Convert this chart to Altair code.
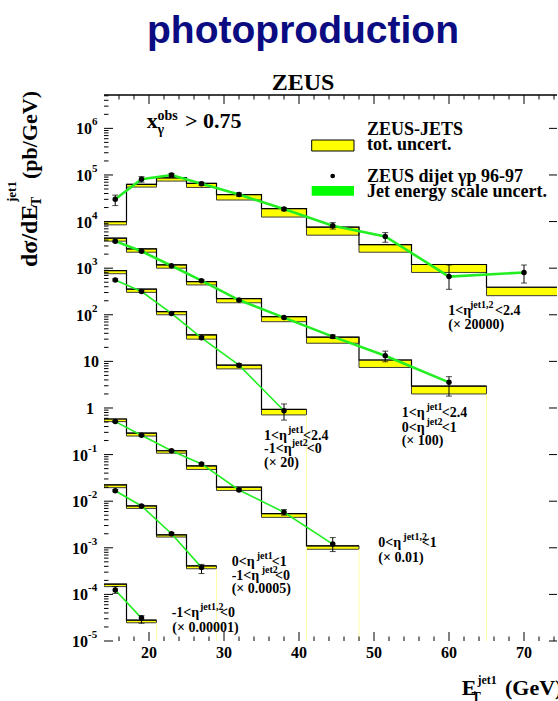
import altair as alt
import pandas as pd

# ---------------- data ----------------
EDGES = [14, 17, 21, 25, 29, 35, 41, 48, 55, 65, 75]
XPTS = [15.5, 19, 23, 27, 32, 38, 44.5, 51.5, 60, 70]

# 1<eta^{jet1,2}<2.4 (x 20000)
S1_HLO = [8.5e3, 5.5e4, 7.4e4, 5.4e4, 2.9e4, 1.25e4, 5.1e3, 2.2e3, 810, 257]
S1_HHI = [1.0e4, 6.3e4, 8.7e4, 6.6e4, 3.8e4, 1.9e4, 7.6e3, 3.2e3, 1.2e3, 390]
S1_Y = [3.0e4, 8.1e4, 1.0e5, 6.5e4, 3.8e4, 1.86e4, 8.1e3, 4.8e3, 660, 810]
S1_LO = [2.2e4, 7.0e4, 9.2e4, 6.0e4, 3.5e4, 1.7e4, 6.9e3, 3.6e3, 352, 480]
S1_HI = [3.7e4, 9.2e4, 1.08e5, 7.0e4, 4.1e4, 2.0e4, 9.5e3, 5.8e3, 1170, 1170]

# 1<eta^jet1<2.4, 0<eta^jet2<1 (x 100)
S2_HLO = [3.8e3, 2.2e3, 1.0e3, 437, 181, 71, 24.5, 7.4, 2.0]
S2_HHI = [4.4e3, 2.6e3, 1.18e3, 515, 223, 91, 33, 10.7, 2.95]
S2_Y = [3.8e3, 2.3e3, 1.13e3, 540, 207, 87, 34, 13.2, 3.55]
S2_LO = [3.6e3, 2.2e3, 1.08e3, 515, 197, 82, 31, 9.8, 1.8]
S2_HI = [4.0e3, 2.4e3, 1.18e3, 565, 217, 92, 37, 16.6, 4.7]

# 1<eta^jet1<2.4, -1<eta^jet2<0 (x 20)
S3_HLO = [760, 303, 100, 30, 6.9, 0.71]
S3_HHI = [890, 355, 117, 37, 8.3, 0.93]
S3_Y = [560, 315, 107, 32, 8.3, 0.87]
S3_LO = [530, 300, 102, 30, 7.6, 0.55]
S3_HI = [590, 330, 112, 34, 9.0, 1.22]

# 0<eta^{jet1,2}<1 (x 0.01)
S4_HLO = [0.51, 0.25, 0.107, 0.048, 0.017, 0.0045, 0.00093]
S4_HHI = [0.58, 0.29, 0.121, 0.057, 0.020, 0.0054, 0.0011]
S4_Y = [0.51, 0.26, 0.121, 0.063, 0.0174, 0.0058, 0.0012]
S4_LO = [0.49, 0.25, 0.116, 0.060, 0.0165, 0.0050, 0.00083]
S4_HI = [0.53, 0.27, 0.126, 0.066, 0.0183, 0.0066, 0.00166]

# 0<eta^jet1<1, -1<eta^jet2<0 (x 0.0005)
S5_HLO = [0.0195, 0.0070, 0.0017, 3.55e-4]
S5_HHI = [0.0224, 0.0079, 0.0019, 4.1e-4]
S5_Y = [0.0168, 0.0079, 0.0020, 3.8e-4]
S5_LO = [0.0160, 0.0075, 0.0019, 2.8e-4]
S5_HI = [0.0176, 0.0083, 0.0021, 4.4e-4]

# -1<eta^{jet1,2}<0 (x 0.00001)
S6_HLO = [1.47e-4, 2.46e-5]
S6_HHI = [1.66e-4, 2.8e-5]
S6_Y = [1.24e-4, 3.1e-5]
S6_LO = [1.05e-4, 2.4e-5]
S6_HI = [1.47e-4, 3.5e-5]

SERIES = [
    ("s1", S1_HLO, S1_HHI, S1_Y, S1_LO, S1_HI),
    ("s2", S2_HLO, S2_HHI, S2_Y, S2_LO, S2_HI),
    ("s3", S3_HLO, S3_HHI, S3_Y, S3_LO, S3_HI),
    ("s4", S4_HLO, S4_HHI, S4_Y, S4_LO, S4_HI),
    ("s5", S5_HLO, S5_HHI, S5_Y, S5_LO, S5_HI),
    ("s6", S6_HLO, S6_HHI, S6_Y, S6_LO, S6_HI),
]
THICK = {"s1", "s2"}

X_MAJOR = [20, 30, 40, 50, 60, 70]
X_MINOR = [v for v in range(16, 75, 2) if v % 10 != 0]
DECADES = list(range(-5, 7))
Y_TOP = 5.2e6
Y_MINOR = [m * 10.0 ** k for k in DECADES for m in range(2, 10) if m * 10.0 ** k < Y_TOP]

# ---------------- layout ----------------
OX, OY = 104, 95          # plot origin in the page
W, H = 453, 546
NAVY = "#0b0b82"
YELLOW = "#ffff00"
GREEN = "#22ee22"
SERIF = "Liberation Serif"

# ---------------- frames ----------------
hist_rows, step_rows, pt_rows, end_rows = [], [], [], []
for name, hlo, hhi, y, lo, hi in SERIES:
    n = len(hhi)
    for i in range(n):
        hist_rows.append(dict(s=name, x0=EDGES[i], x1=EDGES[i + 1], lo=hlo[i], hi=hhi[i]))
        step_rows.append(dict(s=name, x=EDGES[i], y=hhi[i]))
    step_rows.append(dict(s=name, x=EDGES[n], y=hhi[n - 1]))
    for i in range(len(y)):
        pt_rows.append(dict(s=name, x=XPTS[i], y=y[i], lo=lo[i], hi=hi[i],
                            thick=name in THICK))
    if EDGES[n] < 74:
        end_rows.append(dict(x=EDGES[n], y=hlo[n - 1], y2=1e-5))

hist = pd.DataFrame(hist_rows)
steps = pd.DataFrame(step_rows)
pts = pd.DataFrame(pt_rows)
ends = pd.DataFrame(end_rows)

xs = alt.Scale(domain=[14, 74.4], nice=False, zero=False)
ys = alt.Scale(type="log", domain=[1e-5, Y_TOP], nice=False)

x_axis = alt.Axis(labels=False, ticks=False, title=None, domainColor="black",
                  domainWidth=1.5, grid=False)
y_axis = alt.Axis(labels=False, ticks=False, title=None, domainColor="black",
                  domainWidth=1.5, grid=False)

layers = []

# ZEUS-JETS bands (carries the axis lines)
layers.append(alt.Chart(hist).mark_rect(fill=YELLOW, stroke="#3c3c3c", strokeWidth=1, clip=True).encode(
    x=alt.X("x0:Q", scale=xs, axis=x_axis), x2="x1:Q",
    y=alt.Y("lo:Q", scale=ys, axis=y_axis), y2="hi:Q"))

# faint yellow edges of the filled areas
layers.append(alt.Chart(ends).mark_rule(color="#ffffa8", strokeWidth=1).encode(
    x=alt.X("x:Q", scale=xs, axis=None),
    y=alt.Y("y:Q", scale=ys, axis=None), y2="y2:Q"))

layers.append(alt.Chart(steps).mark_line(interpolate="step-after", color="black",
                                         strokeWidth=1.2, clip=True).encode(
    x=alt.X("x:Q", scale=xs, axis=None), y=alt.Y("y:Q", scale=ys, axis=None),
    detail="s:N"))

# jet energy scale uncertainty (green)
for thick, sw in ((True, 2.6), (False, 1.6)):
    layers.append(alt.Chart(pts[pts.thick == thick]).mark_line(color=GREEN, strokeWidth=sw).encode(
        x=alt.X("x:Q", scale=xs, axis=None), y=alt.Y("y:Q", scale=ys, axis=None),
        detail="s:N"))

# data points with error bars
layers.append(alt.Chart(pts).mark_rule(color="black", strokeWidth=1).encode(
    x=alt.X("x:Q", scale=xs, axis=None), y=alt.Y("lo:Q", scale=ys, axis=None), y2="hi:Q"))
for f in ("lo", "hi"):
    layers.append(alt.Chart(pts).mark_tick(color="black", orient="horizontal", size=6, thickness=1).encode(
        x=alt.X("x:Q", scale=xs, axis=None), y=alt.Y(f + ":Q", scale=ys, axis=None)))
layers.append(alt.Chart(pts).mark_circle(color="black", opacity=1, size=30).encode(
    x=alt.X("x:Q", scale=xs, axis=None), y=alt.Y("y:Q", scale=ys, axis=None)))

# inward ticks
xmaj = pd.DataFrame({"v": X_MAJOR})
xmin = pd.DataFrame({"v": X_MINOR})
ymaj = pd.DataFrame({"v": [10.0 ** k for k in DECADES]})
ymin = pd.DataFrame({"v": Y_MINOR})
tk = dict(color="black", strokeWidth=1)
for df, ln in ((xmaj, 9), (xmin, 4.5)):
    layers.append(alt.Chart(df).mark_rule(**tk).encode(
        x=alt.X("v:Q", scale=xs, axis=None), y=alt.value(H), y2=alt.value(H - ln)))
    layers.append(alt.Chart(df).mark_rule(**tk).encode(
        x=alt.X("v:Q", scale=xs, axis=None), y=alt.value(0), y2=alt.value(ln)))
for df, ln in ((ymaj, 9), (ymin, 4.5)):
    layers.append(alt.Chart(df).mark_rule(**tk).encode(
        y=alt.Y("v:Q", scale=ys, axis=None), x=alt.value(0), x2=alt.value(ln)))
layers.append(alt.Chart(ymaj).mark_rule(**tk).encode(
    y=alt.Y("v:Q", scale=ys, axis=None), x=alt.value(W - 8), x2=alt.value(W)))
# top frame line
layers.append(alt.Chart(xmaj.head(1)).mark_rule(color="black", strokeWidth=1.5).encode(
    x=alt.value(0), x2=alt.value(W), y=alt.value(0)))

# x tick labels
layers.append(alt.Chart(xmaj).mark_text(font=SERIF, fontWeight="bold", fontSize=16, align="center",
                                        baseline="top", color="black").encode(
    x=alt.X("v:Q", scale=xs, axis=None), y=alt.value(H + 4), text=alt.Text("v:Q", format="d")))

# y tick labels 10^k
lab_rows = []
for k in DECADES:
    if k >= 2:
        lab_rows.append(dict(v=10.0 ** k, base="10", exp=str(k), px=-12))
    elif k < 0:
        lab_rows.append(dict(v=10.0 ** k, base="10", exp=str(k), px=-16))
    elif k == 1:
        lab_rows.append(dict(v=10.0 ** k, base="10", exp="", px=-5))
    else:
        lab_rows.append(dict(v=1.0, base="1", exp="", px=-10))
labs = pd.DataFrame(lab_rows)
layers.append(alt.Chart(labs).mark_text(font=SERIF, fontWeight="bold", fontSize=16, align="right",
                                        baseline="middle", dy=1, color="black").encode(
    y=alt.Y("v:Q", scale=ys, axis=None), x=alt.X("px:Q", scale=None, axis=None), text="base:N"))
layers.append(alt.Chart(labs[labs.exp != ""]).mark_text(font=SERIF, fontWeight="bold", fontSize=11,
                                                        align="left", baseline="middle", dy=-6,
                                                        color="black").encode(
    y=alt.Y("v:Q", scale=ys, axis=None), x=alt.X("px:Q", scale=None, axis=None), text="exp:N"))

# annotation texts (text, page x, page baseline y, font size)
ANNOT = [
    ("x", 146.7, 128, 22), ("obs", 157.5, 120, 14), ("γ", 157.5, 134, 14), ("> 0.75", 185, 128, 22),
    ("ZEUS-JETS", 367, 135, 18), ("tot. uncert.", 367, 149.5, 18),
    ("ZEUS dijet γp 96-97", 367, 181.5, 18), ("Jet energy scale uncert.", 367, 196.5, 18),
    ("1<η", 448.3, 315, 14), ("jet1,2", 470, 308, 10), ("<2.4", 495, 315, 14), ("(× 20000)", 448.3, 328.5, 14),
    ("1<η", 401.7, 417, 14), ("jet1", 426.5, 410, 10), ("<2.4", 441.7, 417, 14),
    ("0<η", 401.7, 431.7, 14), ("jet2", 426.5, 424.7, 10), ("<1", 441.7, 431.7, 14), ("(× 100)", 401.7, 445, 14),
    ("1<η", 264, 440, 14), ("jet1", 288, 433, 10), ("<2.4", 303, 440, 14),
    ("-1<η", 264, 452.5, 14), ("jet2", 291.7, 445.5, 10), ("<0", 306.7, 452.5, 14), ("(× 20)", 264, 466.7, 14),
    ("0<η", 378.3, 547.3, 14), ("jet1,2", 403.3, 540.3, 10), ("<1", 421.7, 547.3, 14), ("(× 0.01)", 378.3, 561.7, 14),
    ("0<η", 231.7, 566, 14), ("jet1", 256.7, 559, 10), ("<1", 271.7, 566, 14),
    ("-1<η", 231.7, 580, 14), ("jet2", 261.7, 573, 10), ("<0", 275, 580, 14), ("(× 0.0005)", 231.7, 593.3, 14),
    ("-1<η", 171.7, 616.7, 14), ("jet1,2", 200, 609.7, 10), ("<0", 220, 616.7, 14), ("(× 0.00001)", 172.3, 631.7, 14),
    ("E", 461.7, 695, 22), ("jet1", 477.5, 684, 12), ("T", 471.5, 702, 14), ("(GeV)", 505, 695, 22),
]
ann = pd.DataFrame([dict(t=t, px=x - OX, py=y - OY, fs=s) for t, x, y, s in ANNOT])
layers.append(alt.Chart(ann).mark_text(font=SERIF, fontWeight="bold", align="left",
                                       baseline="alphabetic", color="black").encode(
    x=alt.X("px:Q", scale=None, axis=None), y=alt.Y("py:Q", scale=None, axis=None),
    size=alt.Size("fs:Q", scale=None, legend=None), text="t:N"))

# rotated y title
YT = [("dσ/dE", 37, 267, 24), ("T", 41, 206, 14), ("jet1", 16, 202, 13), ("(pb/GeV)", 37, 179, 22)]
yt = pd.DataFrame([dict(t=t, px=x - OX, py=y - OY, fs=s) for t, x, y, s in YT])
layers.append(alt.Chart(yt).mark_text(font=SERIF, fontWeight="bold", align="left", angle=270,
                                      baseline="alphabetic", color="black").encode(
    x=alt.X("px:Q", scale=None, axis=None), y=alt.Y("py:Q", scale=None, axis=None),
    size=alt.Size("fs:Q", scale=None, legend=None), text="t:N"))

# legend symbols
layers.append(alt.Chart(xmaj.head(1)).mark_rect(fill=YELLOW, stroke="black", strokeWidth=1).encode(
    x=alt.value(311.7 - OX), x2=alt.value(354 - OX), y=alt.value(140 - OY), y2=alt.value(151 - OY)))
layers.append(alt.Chart(xmaj.head(1)).mark_rect(fill="#00ff00").encode(
    x=alt.value(311.7 - OX), x2=alt.value(354 - OX), y=alt.value(186 - OY), y2=alt.value(195.7 - OY)))
layers.append(alt.Chart(xmaj.head(1)).mark_circle(color="black", opacity=1, size=22).encode(
    x=alt.value(332.7 - OX), y=alt.value(176 - OY)))

# titles
layers.append(alt.Chart(xmaj.head(1)).mark_text(text="photoproduction", font="Liberation Sans",
                                                fontWeight="bold", fontSize=39, color=NAVY,
                                                align="center", baseline="alphabetic").encode(
    x=alt.value(303 - OX), y=alt.value(43 - OY)))
layers.append(alt.Chart(xmaj.head(1)).mark_text(text="ZEUS", font=SERIF, fontWeight="bold",
                                                fontSize=24, color="black", align="center",
                                                baseline="alphabetic").encode(
    x=alt.value(303 - OX), y=alt.value(90 - OY)))

chart = alt.layer(*layers).properties(
    width=W, height=H,
    autosize=alt.AutoSizeParams(type="none"),
    padding={"left": OX, "top": OY, "right": 558 - OX - W, "bottom": 701 - OY - H},
    background="white",
).configure_view(stroke=None).configure_axis(grid=False)

chart.save("out.html", embed_options={"renderer": "svg", "actions": False})
